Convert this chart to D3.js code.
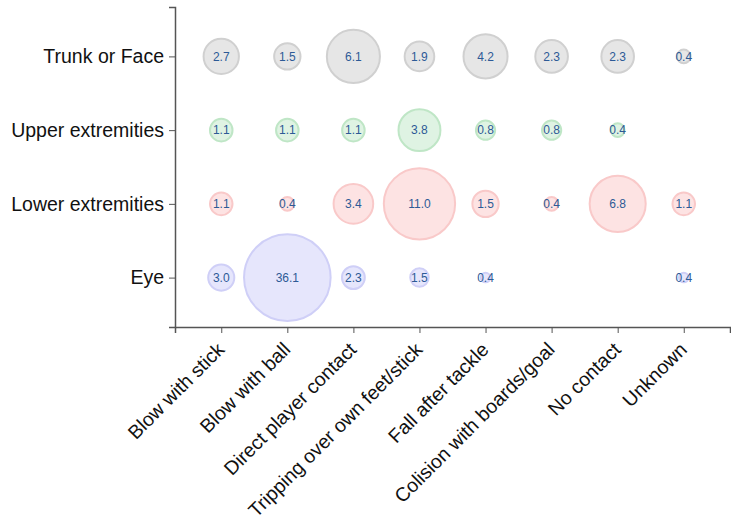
<!DOCTYPE html>
<html>
<head>
<meta charset="utf-8">
<script src="https://cdn.jsdelivr.net/npm/d3@7"></script>
<style>
  body { margin: 0; background: #fff; }
  svg { display: block; font-family: "Liberation Sans", Arial, sans-serif; }
</style>
</head>
<body>
<svg id="chart" width="731" height="520"></svg>
<script>
const causes = ["Blow with stick", "Blow with ball", "Direct player contact", "Tripping over own feet/stick",
  "Fall after tackle", "Colision with boards/goal", "No contact", "Unknown"];
const regions = ["Trunk or Face", "Upper extremities", "Lower extremities", "Eye"];
const trunkValues = [2.7, 1.5, 6.1, 1.9, 4.2, 2.3, 2.3, 0.4];
const upperValues = [1.1, 1.1, 1.1, 3.8, 0.8, 0.8, 0.4, null];
const lowerValues = [1.1, 0.4, 3.4, 11.0, 1.5, 0.4, 6.8, 1.1];
const eyeValues = [3.0, 36.1, 2.3, 1.5, 0.4, null, null, 0.4];
const seriesValues = [trunkValues, upperValues, lowerValues, eyeValues];
const fills = ["#e6e6e6", "#dff3e3", "#fde3e3", "#e6e6fc"];
const strokes = ["#d0d0d0", "#bfe6c6", "#f9c9c9", "#cfcff7"];

const svg = d3.select("#chart");
const x = d3.scalePoint().domain(causes).range([175, 730]).padding(0.7);
const y = d3.scalePoint().domain(regions).range([7, 327]).padding(0.67);
const r = d3.scaleSqrt().domain([0, 16]).range([0, 43]).clamp(true);
const rEye = d3.scaleSqrt().domain([0, 33]).range([0, 43.3]).clamp(true);

const cells = [];
regions.forEach((reg, i) => {
  causes.forEach((c, j) => {
    const v = seriesValues[i][j];
    if (v != null) cells.push({ reg, c, v, i });
  });
});

const g = svg.append("g");
g.selectAll("circle").data(cells).enter().append("circle")
  .attr("cx", d => x(d.c))
  .attr("cy", d => y(d.reg))
  .attr("r", d => d.reg === "Eye" ? rEye(d.v) : r(d.v))
  .attr("fill", d => fills[d.i])
  .attr("stroke", d => strokes[d.i])
  .attr("stroke-width", 2);

g.selectAll("text.val").data(cells).enter().append("text")
  .attr("class", "val")
  .attr("x", d => x(d.c))
  .attr("y", d => y(d.reg))
  .attr("dy", "0.35em")
  .attr("text-anchor", "middle")
  .attr("font-size", 12)
  .attr("fill", "#2d5a96")
  .text(d => d.v.toFixed(1));

const xAxis = svg.append("g")
  .attr("transform", "translate(0,327)")
  .call(d3.axisBottom(x).tickSizeOuter(0).tickSize(6));
xAxis.select(".domain").attr("stroke", "#555").attr("stroke-width", 1.5);
xAxis.selectAll(".tick line").attr("stroke", "#555");
xAxis.selectAll(".tick text")
  .attr("font-size", 19.5)
  .attr("fill", "#111")
  .attr("text-anchor", "end")
  .attr("transform", "translate(-6,14) rotate(-45)")
  .attr("x", 0).attr("y", 0).attr("dy", "0.71em");

const yAxis = svg.append("g")
  .attr("transform", "translate(175,0)")
  .call(d3.axisLeft(y).tickSizeOuter(0).tickSize(6).tickPadding(5));
yAxis.select(".domain").attr("stroke", "#555").attr("stroke-width", 1.5);
yAxis.selectAll(".tick line").attr("stroke", "#555");
yAxis.selectAll(".tick text").attr("font-size", 19.5).attr("fill", "#111");
svg.selectAll(".tick text").attr("font-family", "\"Liberation Sans\", Arial, sans-serif");
</script>
</body>
</html>
